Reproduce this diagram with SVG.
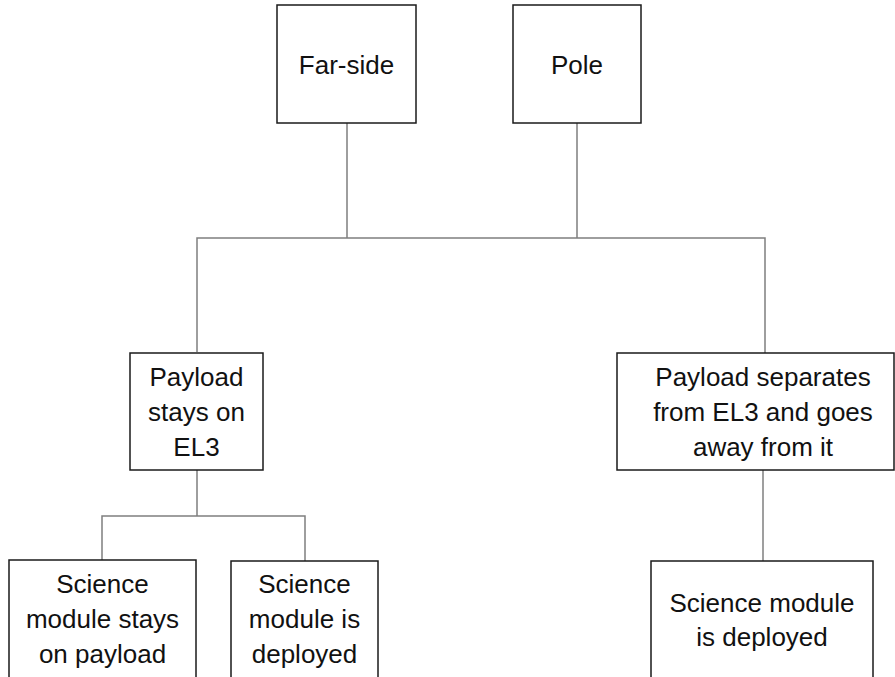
<svg xmlns="http://www.w3.org/2000/svg" width="895" height="677" viewBox="0 0 895 677">
<style>
.box{fill:#fff;stroke:#1a1a1a;stroke-width:1.5}
.t{font-family:"Liberation Sans",Arial,sans-serif;font-size:26px;fill:#111;text-anchor:middle}
.c{fill:none;stroke:#7f7f7f;stroke-width:1.5}
</style>
<rect width="895" height="677" fill="#fff"/>
<g id="connectors">
<path class="c" d="M347 123V238M577 123V238M197 352V238H765V353"/>
<path class="c" d="M197 470V516M102 560V516H305V561"/>
<path class="c" d="M763 470V561"/>
</g>
<g id="farside"><rect class="box" x="277" y="5" width="139" height="118"/><text class="t" x="346.5" y="74">Far-side</text></g>
<g id="pole"><rect class="box" x="513" y="5" width="128" height="118"/><text class="t" x="577" y="74">Pole</text></g>
<g id="stays"><rect class="box" x="130" y="353" width="133" height="117"/><text class="t" x="196.5" y="386">Payload</text><text class="t" x="196.5" y="421">stays on</text><text class="t" x="196.5" y="456">EL3</text></g>
<g id="separates"><rect class="box" x="617" y="353" width="277" height="117"/><text class="t" x="763" y="386">Payload separates</text><text class="t" x="763" y="421">from EL3 and goes</text><text class="t" x="763" y="456">away from it</text></g>
<g id="staysPayload"><rect class="box" x="9" y="560" width="187" height="130"/><text class="t" x="102.5" y="593">Science</text><text class="t" x="102.5" y="628">module stays</text><text class="t" x="102.5" y="663">on payload</text></g>
<g id="deployedLeft"><rect class="box" x="231" y="561" width="147" height="130"/><text class="t" x="304.5" y="593">Science</text><text class="t" x="304.5" y="628">module is</text><text class="t" x="304.5" y="663">deployed</text></g>
<g id="deployedRight"><rect class="box" x="651" y="561" width="222" height="130"/><text class="t" x="762" y="612">Science module</text><text class="t" x="762" y="646">is deployed</text></g>
</svg>
